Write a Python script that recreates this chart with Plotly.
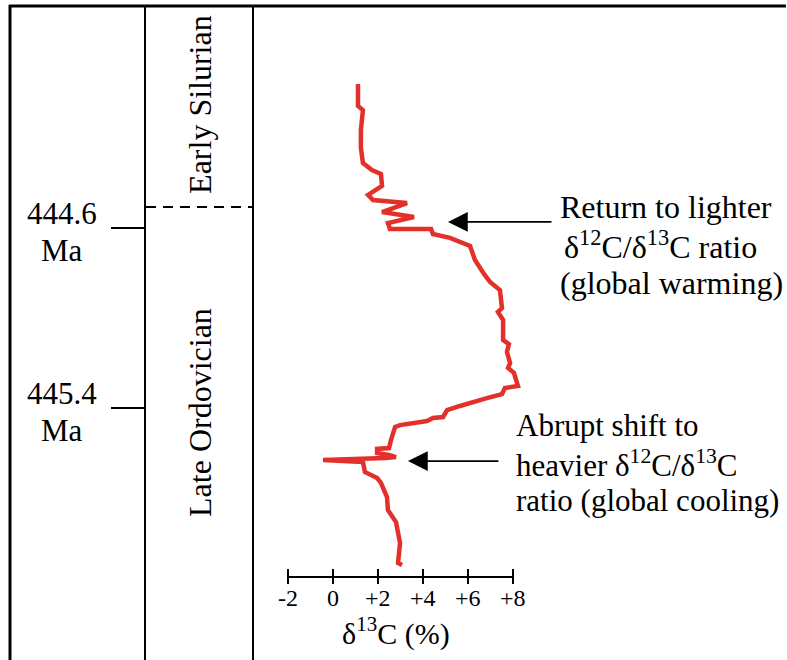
import plotly.graph_objects as go

# ---- data ----
d13c = [1.11, 1.11, 1.33, 1.24, 1.24, 1.33, 1.73, 2.13, 2.18, 1.56, 1.78, 3.29, 2.18, 3.60,
        2.44, 2.53, 4.36, 4.44, 5.20, 6.09, 6.31, 6.49, 6.71, 6.98, 7.42, 7.51, 7.33, 7.56,
        7.56, 7.82, 7.73, 7.87, 7.78, 8.04, 8.22, 7.64, 7.51, 6.84, 6.18, 5.64, 5.07, 4.89,
        4.44, 4.18, 2.98, 2.76, 2.58, 2.49, 1.96, 1.96, 2.49, 2.80, 2.31, -0.44, 1.33, 1.42,
        1.96, 2.13, 2.40, 2.44, 2.80, 2.98, 2.89, 3.07]
age_ma = [443.960, 444.058, 444.076, 444.164, 444.244, 444.311, 444.342, 444.360, 444.413,
          444.453, 444.476, 444.489, 444.529, 444.551, 444.578, 444.604, 444.604, 444.627,
          444.644, 444.680, 444.742, 444.773, 444.804, 444.840, 444.876, 444.956, 444.973,
          445.009, 445.098, 445.116, 445.151, 445.200, 445.222, 445.244, 445.302, 445.311,
          445.338, 445.356, 445.373, 445.391, 445.409, 445.440, 445.444, 445.458, 445.476,
          445.484, 445.542, 445.578, 445.582, 445.600, 445.609, 445.618, 445.622, 445.631,
          445.640, 445.684, 445.711, 445.733, 445.796, 445.853, 445.907, 446.000, 446.089,
          446.098]

x_tick_vals = [-2, 0, 2, 4, 6, 8]
x_tick_text = ["-2", "0", "+2", "+4", "+6", "+8"]
age_tick_vals = [444.6, 445.4]
age_tick_text = ["444.6", "445.4"]
boundary_age = 444.507
periods = ["Early Silurian", "Late Ordovician"]
period_mid_age = [444.053, 445.422]
x_title = "δ<sup>13</sup>C (%)"
note_warm = ["Return to lighter", "δ<sup>12</sup>C/δ<sup>13</sup>C ratio", "(global warming)"]
note_cool = ["Abrupt shift to", "heavier δ<sup>12</sup>C/δ<sup>13</sup>C", "ratio (global cooling)"]
arrow_warm = (5.11, 444.573)
arrow_cool = (3.33, 445.636)

# ---- layout helpers ----
W, H = 787, 660
FONT = "Liberation Serif"
RED = "#e3302b"


def px(xp):
    return xp / W


def py(yp):
    return 1 - yp / H


fig = go.Figure()
fig.add_trace(go.Scatter(x=d13c, y=age_ma, mode="lines",
                         line=dict(color=RED, width=4.5, shape="linear"),
                         hoverinfo="skip", showlegend=False))

shapes = []
# frame
shapes.append(dict(type="line", xref="paper", yref="paper", x0=px(10), x1=px(10), y0=py(5), y1=py(660),
                   line=dict(color="black", width=3)))
shapes.append(dict(type="line", xref="paper", yref="paper", x0=px(9), x1=px(786), y0=py(6), y1=py(6),
                   line=dict(color="black", width=3)))
for xp in (145, 253):
    shapes.append(dict(type="line", xref="paper", yref="paper", x0=px(xp), x1=px(xp), y0=py(5), y1=py(660),
                       line=dict(color="black", width=2)))
# age ticks
for a in age_tick_vals:
    shapes.append(dict(type="line", xref="paper", yref="y", x0=px(111), x1=px(145), y0=a, y1=a,
                       line=dict(color="black", width=2)))
# period boundary (dashed)
shapes.append(dict(type="line", xref="paper", yref="y", x0=px(146), x1=px(253), y0=boundary_age, y1=boundary_age,
                   line=dict(color="black", width=2, dash="10px,7px")))
# bottom δ13C axis
shapes.append(dict(type="line", xref="x", yref="paper", x0=x_tick_vals[0], x1=x_tick_vals[-1],
                   y0=py(577), y1=py(577), line=dict(color="black", width=2)))
for v in x_tick_vals:
    shapes.append(dict(type="line", xref="x", yref="paper", x0=v, x1=v, y0=py(569), y1=py(584),
                       line=dict(color="black", width=2)))

ann = []
for v, t in zip(x_tick_vals, x_tick_text):
    ann.append(dict(x=v, y=py(598), xref="x", yref="paper", text=t, showarrow=False,
                    xanchor="center", yanchor="middle", font=dict(family=FONT, size=24, color="black")))
ann.append(dict(x=2.8, y=py(631), xref="x", yref="paper", text=x_title, showarrow=False,
                xanchor="center", yanchor="middle", font=dict(family=FONT, size=30, color="black")))
for a, t in zip(age_tick_vals, age_tick_text):
    ann.append(dict(x=px(62), y=a, xref="paper", yref="y", text=t, showarrow=False, yshift=15,
                    xanchor="center", yanchor="middle", font=dict(family=FONT, size=31, color="black")))
    ann.append(dict(x=px(62), y=a, xref="paper", yref="y", text="Ma", showarrow=False, yshift=-22,
                    xanchor="center", yanchor="middle", font=dict(family=FONT, size=31, color="black")))
for name, a in zip(periods, period_mid_age):
    ann.append(dict(x=px(200), y=a, xref="paper", yref="y", text=name, showarrow=False, textangle=-90,
                    xanchor="center", yanchor="middle", font=dict(family=FONT, size=32, color="black")))
for i, (t, xp) in enumerate(zip(note_warm, (558, 562, 558))):
    ann.append(dict(x=px(xp), y=py(207 + 38 * i), xref="paper", yref="paper", text=t, showarrow=False,
                    xanchor="left", yanchor="middle", font=dict(family=FONT, size=32, color="black")))
for i, t in enumerate(note_cool):
    ann.append(dict(x=px(514), y=py(425 + 38 * i), xref="paper", yref="paper", text=t, showarrow=False,
                    xanchor="left", yanchor="middle", font=dict(family=FONT, size=31, color="black")))
# arrows
ann.append(dict(x=arrow_warm[0], y=arrow_warm[1], xref="x", yref="y", ax=105, ay=0, text="",
                showarrow=True, arrowhead=2, arrowsize=2.2, arrowwidth=1.8, arrowcolor="black"))
ann.append(dict(x=arrow_cool[0], y=arrow_cool[1], xref="x", yref="y", ax=92, ay=0, text="",
                showarrow=True, arrowhead=2, arrowsize=2.2, arrowwidth=1.8, arrowcolor="black"))

fig.update_layout(
    width=W, height=H, margin=dict(l=0, r=0, t=0, b=0),
    paper_bgcolor="white", plot_bgcolor="white",
    font=dict(family=FONT),
    xaxis=dict(range=[-333 / 22.5, (W - 333) / 22.5], visible=False, fixedrange=True),
    yaxis=dict(range=[444.6 + (H - 228) / 225, 444.6 - 228 / 225], visible=False, fixedrange=True),
    shapes=shapes, annotations=ann, showlegend=False,
)
fig.write_html("out.html")
